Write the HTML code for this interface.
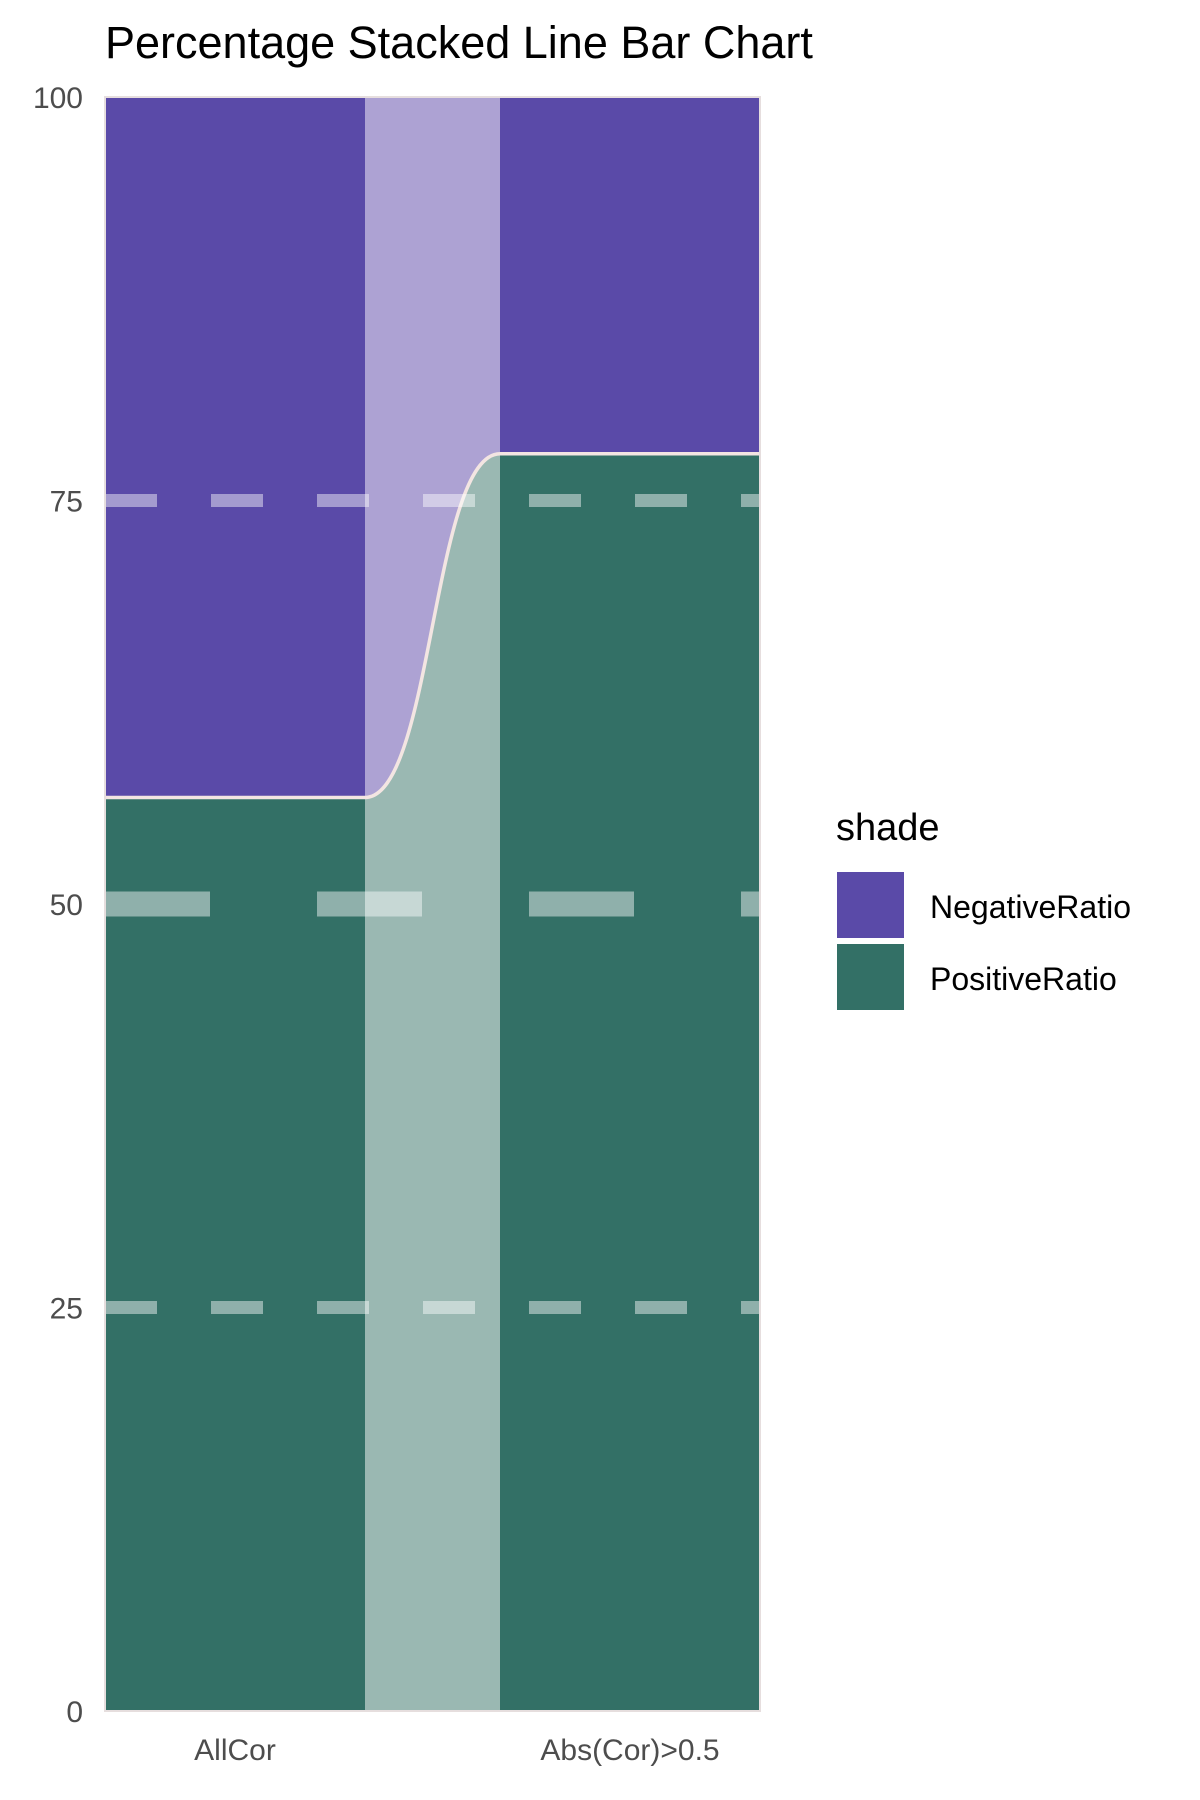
<!DOCTYPE html>
<html><head><meta charset="utf-8"><style>
html,body{margin:0;padding:0;background:#fff;}
svg{display:block;font-family:"Liberation Sans",Arial,sans-serif;}
</style></head><body>
<svg id="chart" width="1200" height="1800" viewBox="0 0 1200 1800">
<text x="105" y="58" font-size="45" fill="#000">Percentage Stacked Line Bar Chart</text>
<g id="plot"></g>
<g id="legend">
<text x="836" y="840" font-size="38" fill="#000">shade</text>
<rect x="837" y="872" width="67" height="66" fill="#5a4aa8"/>
<text x="930" y="918" font-size="32" fill="#000">NegativeRatio</text>
<rect x="837" y="944" width="67" height="66" fill="#337066"/>
<text x="930" y="990" font-size="32" fill="#000">PositiveRatio</text>
</g>
</svg>
<script>
const categories = ["AllCor", "Abs(Cor)>0.5"];
const positiveValues = [56.6, 77.9];
const negativeValues = [43.4, 22.1];
const tickValues = [0, 25, 50, 75, 100];
const tickLabels = ["0", "25", "50", "75", "100"];

const NS = "http://www.w3.org/2000/svg";
const L = 105, R = 760, T = 97, B = 1711;
const barW = 260;
const y = v => B - (v / 100) * (B - T);
const xc = i => L + barW / 2 + i * (R - L - barW);
const g = document.getElementById('plot');
function mk(tag, attrs) { const e = document.createElementNS(NS, tag); for (const k in attrs) e.setAttribute(k, attrs[k]); g.appendChild(e); return e; }

// bars
categories.forEach((c, i) => {
  const x0 = xc(i) - barW / 2;
  const p = positiveValues[i], n = negativeValues[i];
  const rp = mk('rect', {x: x0, y: y(p), width: barW, height: y(0) - y(p), fill: '#337066'});
  
  
  const rn = mk('rect', {x: x0, y: y(p + n), width: barW, height: y(p) - y(p + n), fill: '#5a4aa8'});
  
  
});
// ribbon between bars
const xa = xc(0) + barW / 2, xb = xc(1) - barW / 2, xm = (xa + xb) / 2;
const ya = y(positiveValues[0]), yb = y(positiveValues[1]);
const curve = `C ${xm} ${ya} ${xm} ${yb} ${xb} ${yb}`;
const rg = mk('path', {d: `M ${xa} ${y(0)} L ${xa} ${ya} ${curve} L ${xb} ${y(0)} Z`, fill: '#9ab8b2'});


const rtop = mk('path', {d: `M ${xa} ${y(100)} L ${xa} ${ya} ${curve} L ${xb} ${y(100)} Z`, fill: '#ada2d3'});


// boundary line
const bl = mk('path', {d: `M ${L} ${ya} L ${xa} ${ya} ${curve} L ${R} ${yb}`, fill: 'none', stroke: '#f3e5e2', 'stroke-width': 3.5});


// gridlines
[25, 50, 75].forEach(v => {
  const major = v === 50;
  const gl = mk('line', {x1: L, x2: R, y1: y(v), y2: y(v), stroke: '#ffffff', 'stroke-opacity': 0.45,
    'stroke-width': major ? 25 : 13, 'stroke-dasharray': major ? '105 107' : '52 54'});
  
  
});
// panel border
const pb = mk('rect', {x: L, y: T, width: R - L, height: B - T, fill: 'none', stroke: '#e6dede', 'stroke-width': 2});


// y ticks
tickValues.forEach((v, i) => {
  const t = mk('text', {x: 83, y: y(v) + 11, 'font-size': 30, fill: '#4d4d4d', 'text-anchor': 'end'});
  t.textContent = tickLabels[i];
  
  
});
// x labels
categories.forEach((c, i) => {
  const t = mk('text', {x: xc(i), y: 1760, 'font-size': 30, fill: '#4d4d4d', 'text-anchor': 'middle'});
  t.textContent = c;
  
  
});
</script>
</body></html>
